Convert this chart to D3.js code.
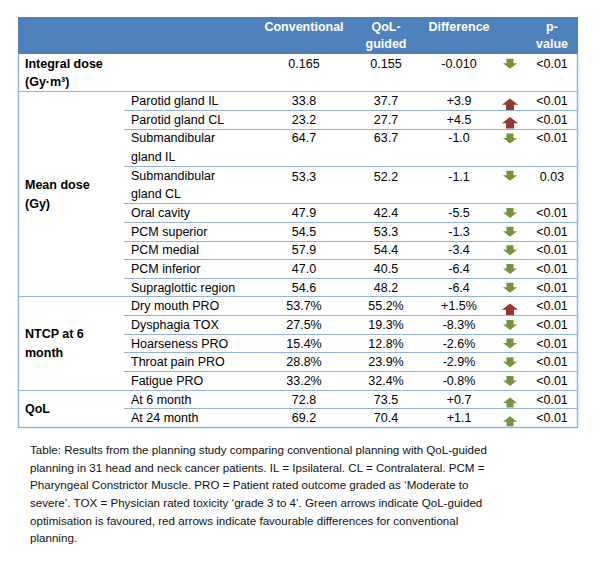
<!DOCTYPE html>
<html>
  <head>
    <meta charset="utf-8">
    <title></title>
  </head>
  <style>
    body{
      margin: 0;
      background-color: #fff;
      font-family: "Liberation Sans", Arial, sans-serif;
    }
    svg { display: block }
    .hdr { fill: #fff; font-weight: bold; font-size: 12.5px }
    .cell { fill: #000; font-size: 12.5px }
    .grp { fill: #000; font-size: 12.5px; font-weight: bold }
    .caption { fill: #111; font-size: 11.6px }
  </style>
  <script src="https://d3js.org/d3.v7.min.js"></script>
  <body>
    <script>
    // table contents
    const headers = [["Conventional"], ["QoL-", "guided"], ["Difference"], [""], ["p-", "value"]]

    const groups = [
      {name: ["Integral dose", "(Gy·m³)"], rows: [0]},
      {name: ["Mean dose", "(Gy)"], rows: [1, 2, 3, 4, 5, 6, 7, 8, 9]},
      {name: ["NTCP at 6", "month"], rows: [10, 11, 12, 13, 14]},
      {name: ["QoL"], rows: [15, 16]}
    ]

    const labels = [[""], ["Parotid gland IL"], ["Parotid gland CL"], ["Submandibular", "gland IL"],
      ["Submandibular", "gland CL"], ["Oral cavity"], ["PCM superior"], ["PCM medial"],
      ["PCM inferior"], ["Supraglottic region"], ["Dry mouth PRO"], ["Dysphagia TOX"],
      ["Hoarseness PRO"], ["Throat pain PRO"], ["Fatigue PRO"], ["At 6 month"], ["At 24 month"]]

    const conventional = ["0.165", "33.8", "23.2", "64.7", "53.3", "47.9", "54.5", "57.9", "47.0", "54.6",
      "53.7%", "27.5%", "15.4%", "28.8%", "33.2%", "72.8", "69.2"]
    const qolGuided = ["0.155", "37.7", "27.7", "63.7", "52.2", "42.4", "53.3", "54.4", "40.5", "48.2",
      "55.2%", "19.3%", "12.8%", "23.9%", "32.4%", "73.5", "70.4"]
    const difference = ["-0.010", "+3.9", "+4.5", "-1.0", "-1.1", "-5.5", "-1.3", "-3.4", "-6.4", "-6.4",
      "+1.5%", "-8.3%", "-2.6%", "-2.9%", "-0.8%", "+0.7", "+1.1"]
    // arrow: d = green down, u = red up, g = green up
    const arrows = ["d", "u", "u", "d", "d", "d", "d", "d", "d", "d",
      "u", "d", "d", "d", "d", "g", "g"]
    const pValues = ["<0.01", "<0.01", "<0.01", "<0.01", "0.03", "<0.01", "<0.01", "<0.01", "<0.01", "<0.01",
      "<0.01", "<0.01", "<0.01", "<0.01", "<0.01", "<0.01", "<0.01"]

    const captionLines = [
      "Table: Results from the planning study comparing conventional planning with QoL-guided",
      "planning in 31 head and neck cancer patients. IL = Ipsilateral. CL = Contralateral. PCM =",
      "Pharyngeal Constrictor Muscle. PRO = Patient rated outcome graded as \u2018Moderate to",
      "severe\u2019. TOX = Physician rated toxicity \u2018grade 3 to 4\u2019. Green arrows indicate QoL-guided",
      "optimisation is favoured, red arrows indicate favourable differences for conventional",
      "planning."
    ]

    const W = 600, H = 564
    const tLeft = 18, tRight = 578, tTop = 17, headBottom = 54, tBottom = 427
    const lineColor = "#95b3d7", headColor = "#4f81bd"
    const green = "#77933c", red = "#953735"

    const svg = d3.select("body").append("svg")
      .attr("width", W).attr("height", H)

    // rows are measured in text lines; a one-row group takes the height of its name
    const units = labels.map(function(d, i){
      const g = groups.find(function(g){ return g.rows.length === 1 && g.rows[0] === i })
      return Math.max(d.length, g ? g.name.length : 1)
    })
    const starts = [0].concat(Array.from(d3.cumsum(units)))
    const yScale = d3.scaleLinear()
      .domain([0, d3.sum(units)])
      .range([headBottom, tBottom])

    // value columns (centers)
    const colX = d3.scaleOrdinal()
      .domain(["conv", "qol", "diff", "arrow", "p"])
      .range([304, 386, 459, 510, 552])
    const lineH = yScale(1) - yScale(0)

    // header
    svg.append("rect")
      .attr("x", tLeft).attr("y", tTop)
      .attr("width", tRight - tLeft).attr("height", headBottom - tTop)
      .attr("fill", headColor)

    svg.append("g").selectAll("text")
      .data(headers)
      .join("text")
      .attr("class", "hdr")
      .attr("text-anchor", "middle")
      .attr("x", function(d, i){ return colX.range()[i] })
      .attr("y", tTop + 14)
      .selectAll("tspan")
      .data(function(d){ return d })
      .join("tspan")
      .attr("x", function(){ return d3.select(this.parentNode).attr("x") })
      .attr("dy", function(d, i){ return i === 0 ? 0 : 17 })
      .text(function(d){ return d })

    // row separators
    const groupStarts = groups.map(function(g){ return g.rows[0] })
    const sep = svg.append("g")
    for (let i = 1; i < labels.length; i++) {
      const y = Math.round(yScale(starts[i])) + 0.5
      sep.append("line")
        .attr("x1", groupStarts.includes(i) ? tLeft : 124)
        .attr("x2", tRight)
        .attr("y1", y).attr("y2", y)
        .attr("stroke", lineColor)
        .attr("stroke-width", 1.2)
    }

    // outer border
    svg.append("path")
      .attr("d", `M${tLeft + 0.5},${headBottom} V${tBottom + 0.5} H${tRight - 0.5} V${headBottom}`)
      .attr("fill", "none")
      .attr("stroke", lineColor)
      .attr("stroke-width", 1.5)

    // multi-line text: first line gets the baseline shift, the rest step down
    function lineDy(d, i){ return i === 0 ? "0.36em" : lineH }

    // group labels, vertically centred in their block
    svg.append("g").selectAll("text")
      .data(groups)
      .join("text")
      .attr("class", "grp")
      .attr("x", 25)
      .attr("y", function(g){
        if (g.rows.length === 1) return yScale(starts[g.rows[0]]) + lineH / 2
        const y0 = yScale(starts[g.rows[0]])
        const y1 = yScale(starts[g.rows[g.rows.length - 1] + 1])
        return (y0 + y1) / 2 - (g.name.length - 1) * lineH / 2
      })
      .selectAll("tspan")
      .data(function(d){ return d.name })
      .join("tspan")
      .attr("x", 25)
      .attr("dy", lineDy)
      .text(function(d){ return d })

    // sub labels
    svg.append("g").selectAll("text")
      .data(labels)
      .join("text")
      .attr("class", "cell")
      .attr("x", 131)
      .attr("y", function(d, i){ return yScale(starts[i]) + lineH / 2 })
      .selectAll("tspan")
      .data(function(d){ return d })
      .join("tspan")
      .attr("x", 131)
      .attr("dy", lineDy)
      .text(function(d){ return d })

    // value columns
    const columns = [["conv", conventional], ["qol", qolGuided], ["diff", difference], ["p", pValues]]
    columns.forEach(function(c){
      svg.append("g").selectAll("text")
        .data(c[1])
        .join("text")
        .attr("class", "cell")
        .attr("text-anchor", "middle")
        .attr("x", colX(c[0]))
        .attr("y", function(d, i){ return yScale(starts[i]) + lineH / 2 + (i === 4 ? 1 : 0) })
        .attr("dy", "0.36em")
        .text(function(d){ return d })
    })

    // block arrows
    const downPath = "M-3.5,-5 H3.5 V-0.5 H7 L0,5 L-7,-0.5 H-3.5 Z"
    const upPath = "M0,-5 L7,0.5 H3.5 V5 H-3.5 V0.5 H-7 Z"
    svg.append("g").selectAll("path")
      .data(arrows)
      .join("path")
      .attr("d", function(d){ return d === "d" ? downPath : upPath })
      .attr("fill", function(d){ return d === "u" ? red : green })
      .attr("transform", function(d, i){
        const cy = yScale(starts[i]) + lineH / 2
        let dy = 0.5
        let s = 1
        if (d === "u") { dy = 3.5; s = 1.15 }
        if (d === "g") { dy = 3.5; s = 1 }
        return `translate(${colX("arrow")},${cy + dy}) scale(${s})`
      })

    // caption
    svg.append("g").selectAll("text")
      .data(captionLines)
      .join("text")
      .attr("class", "caption")
      .attr("x", 30)
      .attr("y", function(d, i){ return 450 + i * 17.6 })
      .attr("dy", "0.36em")
      .text(function(d){ return d })
    </script>
  </body>
</html>
